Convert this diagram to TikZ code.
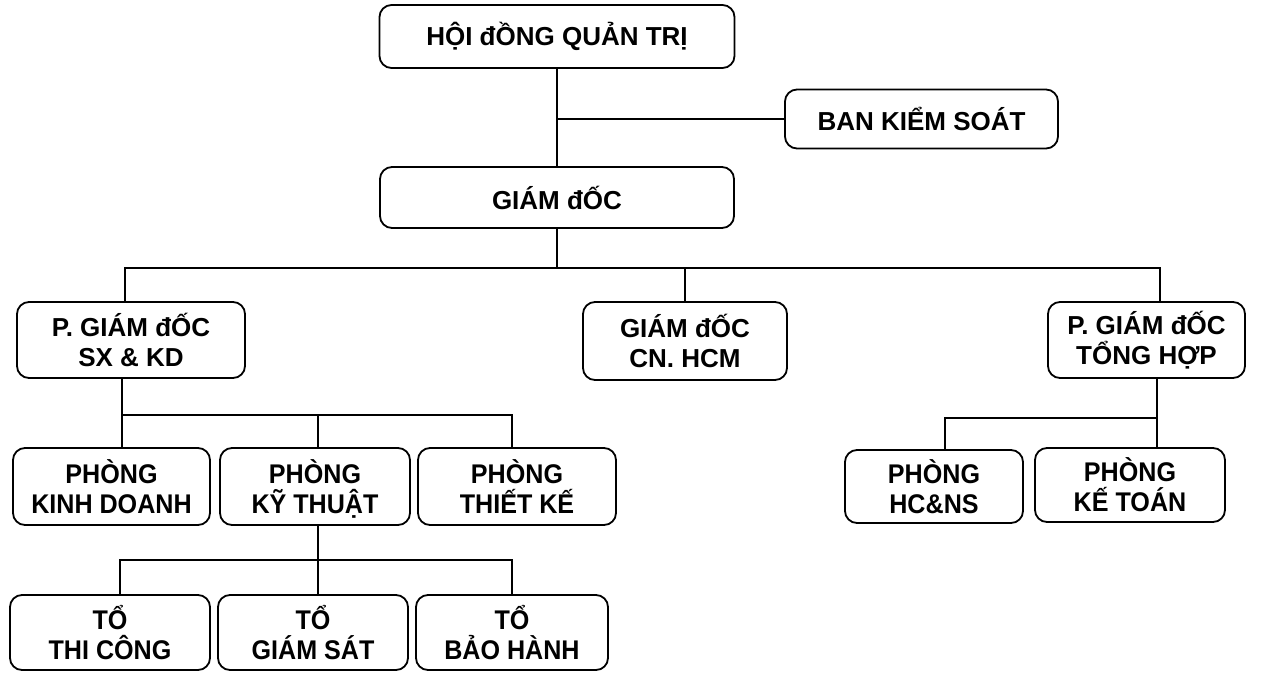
\documentclass[tikz,border=0pt]{standalone}
\usepackage{fontspec}
\setmainfont{Liberation Sans}
\newfontfamily\narrowsans[FakeStretch=0.93]{Liberation Sans}
\usepackage{tikz}
\usetikzlibrary{positioning}

\tikzset{
  unit/.style={draw, rounded corners=12pt, line width=1.8pt, align=center,
    inner sep=0pt, font=\bfseries\fontsize{26}{30}\selectfont},
  dept/.style={unit, font=\narrowsans\bfseries\fontsize{27}{30}\selectfont},
  link/.style={line width=1.5pt}
}

\begin{document}
\begin{tikzpicture}[x=1pt, y=-1pt]

  \useasboundingbox (0,0) rectangle (1275,675);

  % Define nodes
  \node[unit, minimum width=355pt, minimum height=63pt] (hdqt) at (557,36.5) {HỘI đỒNG QUẢN TRỊ};
  \node[unit, minimum width=273pt, minimum height=59pt] (bks) at (921.5,119) {BAN KIỂM SOÁT};
  \node[unit, minimum width=354pt, minimum height=61pt] (gd) at (557,197.5) {GIÁM đỐC};

  \node[unit, minimum width=228pt, minimum height=76pt] (sxkd) at (131,340) {P. GIÁM đỐC\\SX \& KD};
  \node[unit, minimum width=204pt, minimum height=78pt] (cnhcm) at (685,341) {GIÁM đỐC\\CN. HCM};
  \node[unit, minimum width=197pt, minimum height=76pt] (tonghop) at (1146.5,340) {P. GIÁM đỐC\\TỔNG HỢP};

  \node[dept, minimum width=197pt, minimum height=77pt] (pkd) at (111.5,486.5) {PHÒNG\\KINH DOANH};
  \node[dept, minimum width=190pt, minimum height=77pt] (pkt) at (315,486.5) {PHÒNG\\KỸ THU\smash{Ậ}T};
  \node[dept, minimum width=198pt, minimum height=77pt] (ptk) at (517,486.5) {PHÒNG\\THIẾT KẾ};

  \node[dept, minimum width=200pt, minimum height=75pt] (tc) at (110,632.5) {TỔ\\THI CÔNG};
  \node[dept, minimum width=190pt, minimum height=75pt] (gs) at (313,632.5) {TỔ\\GIÁM SÁT};
  \node[dept, minimum width=192pt, minimum height=75pt] (bh) at (512,632.5) {TỔ\\BẢO HÀNH};

  \node[dept, minimum width=178pt, minimum height=73pt] (hcns) at (934,486.5) {PHÒNG\\HC\&NS};
  \node[dept, minimum width=190pt, minimum height=74pt] (ketoan) at (1130,485) {PHÒNG\\KẾ TOÁN};

  % Bus points
  \coordinate (busL) at (125,268);
  \coordinate (busR) at (1160,268);
  \coordinate (kdL) at (122,415);
  \coordinate (kdM) at (318,415);
  \coordinate (kdR) at (512,415);
  \coordinate (toL) at (120,560);
  \coordinate (toM) at (318,560);
  \coordinate (toR) at (512,560);
  \coordinate (thL) at (945,418);
  \coordinate (thR) at (1157,418);

  % Connectors
  \draw[link] (hdqt) -- (gd);
  \draw[link] (hdqt.south |- bks) -- (bks);
  \draw[link] (gd.south) -- (gd.south |- busL);
  \draw[link] (busL |- sxkd.north) -- (busL) -- (busR) -- (busR |- tonghop.north);
  \draw[link] (cnhcm.north |- busL) -- (cnhcm.north);

  \draw[link] (kdL |- sxkd.south) -- (kdL |- pkd.north);
  \draw[link] (kdL) -- (kdR) -- (kdR |- ptk.north);
  \draw[link] (kdM) -- (kdM |- pkt.north);

  \draw[link] (toM |- pkt.south) -- (toM |- gs.north);
  \draw[link] (toL |- tc.north) -- (toL) -- (toR) -- (toR |- bh.north);

  \draw[link] (thR |- tonghop.south) -- (thR |- ketoan.north);
  \draw[link] (thL |- hcns.north) -- (thL) -- (thR);

\end{tikzpicture}
\end{document}
